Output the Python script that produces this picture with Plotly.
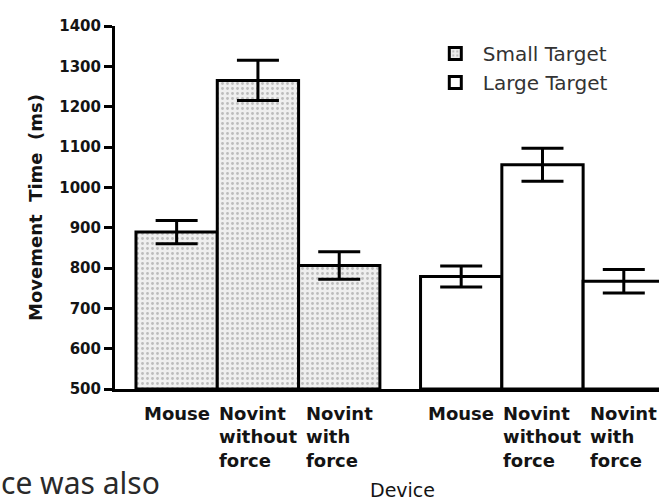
import plotly.graph_objects as go

# ---- data ----
devices = ["Mouse", "Novint<br>without<br>force", "Novint<br>with<br>force"]
small_target = [889, 1265, 806]
small_err = [29, 50, 34]
large_target = [779, 1056, 767]
large_err = [26, 41, 29]
y_ticks = [500, 600, 700, 800, 900, 1000, 1100, 1200, 1300, 1400]
group_gap = 0.5

n = len(devices)
small_x = [i for i in range(n)]
large_x = [i + n + group_gap for i in range(n)]

FAM = "DejaVu Sans"
INK = "#141414"

fig = go.Figure()
fig.add_trace(go.Bar(
    x=small_x, y=[v - 500 for v in small_target], base=500, width=1.0,
    name="Small Target",
    marker=dict(color="#ededed",
                line=dict(color="black", width=3),
                pattern=dict(shape=".", size=5, solidity=0.25,
                             fgcolor="#8a8a8a", bgcolor="#efefef",
                             fillmode="overlay")),
    error_y=dict(type="data", array=small_err, color="black", thickness=3, width=21),
))
fig.add_trace(go.Bar(
    x=large_x, y=[v - 500 for v in large_target], base=500, width=1.0,
    name="Large Target",
    marker=dict(color="white", line=dict(color="black", width=3)),
    error_y=dict(type="data", array=large_err, color="black", thickness=3, width=21),
))

# category labels (left-aligned multi-line, centered under each bar)
for xs in (small_x, large_x):
    for xv, lab in zip(xs, devices):
        fig.add_annotation(x=xv, y=0, xref="x", yref="paper", text="<b>" + lab + "</b>",
                           showarrow=False, align="left", xanchor="center", yanchor="top",
                           yshift=-12, font=dict(family=FAM, size=18, color=INK))

fig.add_annotation(x=0.528, y=0, xref="paper", yref="paper", text="Device",
                   showarrow=False, xanchor="center", yanchor="top", yshift=-88,
                   font=dict(family=FAM, size=19, color=INK))
fig.add_annotation(x=-0.211, y=0, xref="paper", yref="paper", text="ce was also",
                   showarrow=False, xanchor="left", yanchor="top", yshift=-72,
                   borderpad=0,
                   font=dict(family="Noto Sans", size=30, color="#2a2a2a"))

fig.update_layout(
    width=659, height=502,
    margin=dict(l=115, r=0, t=26, b=113),
    plot_bgcolor="white", paper_bgcolor="white",
    barmode="overlay",
    showlegend=True,
    legend=dict(x=0.575, y=0.978, xanchor="left", yanchor="top",
                font=dict(family=FAM, size=20, color="#333333"),
                itemwidth=45, bgcolor="rgba(0,0,0,0)", tracegroupgap=4),
    xaxis=dict(range=[-0.758, 5.933], showgrid=False, zeroline=False,
               showline=True, linecolor="black", linewidth=3,
               showticklabels=False, ticks=""),
    yaxis=dict(range=[500, 1400], tickvals=y_ticks, showgrid=False, zeroline=False,
               showline=True, linecolor="black", linewidth=3,
               ticks="outside", ticklen=8, tickwidth=2.5, tickcolor="black",
               tickfont=dict(family=FAM, size=15, color=INK, weight="bold"),
               title=dict(text="<b>Movement\u00a0 Time\u00a0 (ms)</b>",
                          font=dict(family=FAM, size=18, color=INK), standoff=12),
               automargin=True),
)

fig.write_html("out.html")
